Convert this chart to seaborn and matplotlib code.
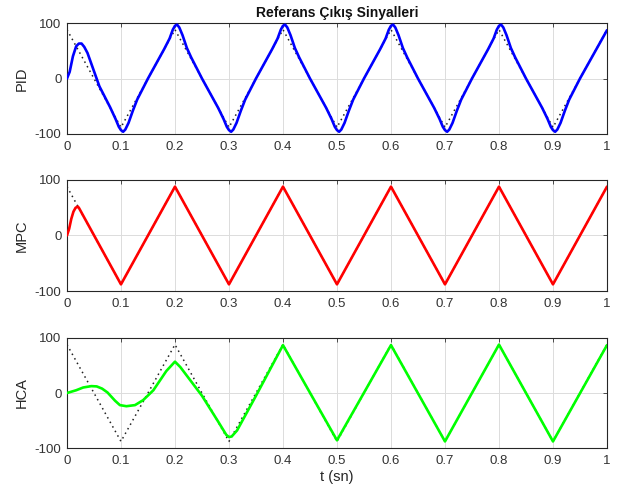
import numpy as np
import pandas as pd
import matplotlib
matplotlib.use("Agg")
import matplotlib.pyplot as plt
import seaborn as sns

#%% veriler
# referans ucgen sinyal (koseler)
ref_t = [0, 0.1, 0.2, 0.3, 0.4, 0.5, 0.6, 0.7, 0.8, 0.9, 1.0]
ref_y = [88, -88, 88, -88, 88, -88, 88, -88, 88, -88, 88]

# PID cikisi (resimden okunan noktalar)
pid_t = [0, 0.005, 0.011, 0.017, 0.022, 0.027, 0.032, 0.038, 0.06, 0.08,
         0.09, 0.096, 0.1, 0.104, 0.108, 0.114, 0.122, 0.13, 0.15, 0.18,
         0.19, 0.196, 0.2, 0.204, 0.208, 0.214, 0.222, 0.23, 0.25, 0.28,
         0.29, 0.296, 0.3, 0.304, 0.308, 0.314, 0.322, 0.33, 0.35, 0.38,
         0.39, 0.396, 0.4, 0.404, 0.408, 0.414, 0.422, 0.43, 0.45, 0.48,
         0.49, 0.496, 0.5, 0.504, 0.508, 0.514, 0.522, 0.53, 0.55, 0.58,
         0.59, 0.596, 0.6, 0.604, 0.608, 0.614, 0.622, 0.63, 0.65, 0.68,
         0.69, 0.696, 0.7, 0.704, 0.708, 0.714, 0.722, 0.73, 0.75, 0.78,
         0.79, 0.796, 0.8, 0.804, 0.808, 0.814, 0.822, 0.83, 0.85, 0.88,
         0.89, 0.896, 0.9, 0.904, 0.908, 0.914, 0.922, 0.93, 0.95, 1.0]
pid_y = [0, 12, 40, 58, 63, 63, 57, 46, -14, -52,
         -73, -87, -93, -96, -92, -80, -58, -38, 0, 53,
         72, 88, 95, 97, 92, 78, 55, 38, 0, -53,
         -73, -87, -93, -96, -92, -80, -58, -38, 0, 53,
         72, 88, 95, 97, 92, 78, 55, 38, 0, -53,
         -73, -87, -93, -96, -92, -80, -58, -38, 0, 53,
         72, 88, 95, 97, 92, 78, 55, 38, 0, -53,
         -73, -87, -93, -96, -92, -80, -58, -38, 0, 53,
         72, 88, 95, 97, 92, 78, 55, 38, 0, -53,
         -73, -87, -93, -96, -92, -80, -58, -38, 0, 87]

# MPC cikisi
mpc_t = [0, 0.004, 0.008, 0.012, 0.016, 0.02, 0.022, 0.1, 0.2, 0.3, 0.4,
         0.5, 0.6, 0.7, 0.8, 0.9, 1.0]
mpc_y = [0, 12, 30, 43, 50, 52, 50, -88, 88, -88, 88,
         -88, 88, -88, 88, -88, 88]

# HCA cikisi
hca_t = [0, 0.017, 0.03, 0.045, 0.055, 0.065, 0.075, 0.089, 0.098, 0.11,
         0.126, 0.141, 0.16, 0.184, 0.2, 0.21, 0.25, 0.28, 0.295, 0.3,
         0.305, 0.315, 0.35, 0.4, 0.5, 0.6, 0.7, 0.8, 0.9, 1.0]
hca_y = [0, 5, 10, 12.5, 12, 8, 1, -14, -22, -24,
         -22, -13, 5, 40, 57, 47, -5, -52, -76, -80,
         -79, -68, -5, 87, -86, 87, -88, 88, -88, 87]

#%% cizim
sns.set_style("white")
plt.rcParams['font.family'] = ['Liberation Sans', 'DejaVu Sans']
plt.rcParams['axes.unicode_minus'] = False

fig = plt.figure(figsize=(6.23, 4.95), dpi=100)
boxes = [[0.1075, 0.7293, 0.8668, 0.2242],
         [0.1075, 0.4121, 0.8668, 0.2243],
         [0.1075, 0.0949, 0.8668, 0.2223]]
series = [(pid_t, pid_y, (0, 0, 1), "PID"),
          (mpc_t, mpc_y, (1, 0, 0), "MPC"),
          (hca_t, hca_y, (0, 1, 0), "HCA")]

ref = pd.DataFrame({"t": ref_t, "y": ref_y})
for i, (t, y, c, name) in enumerate(series):
    ax = fig.add_axes(boxes[i])
    sns.lineplot(data=ref, x="t", y="y", ax=ax, color="#222222", lw=1.1,
                 linestyle=(0, (1, 2.4)), zorder=2)
    sns.lineplot(x=t, y=y, ax=ax, color=c, lw=1.9, zorder=3)
    ax.set_xlim(0, 1)
    ax.set_ylim(-100, 100)
    ax.set_xticks(np.arange(0, 1.01, 0.1))
    ax.set_xticklabels(["0", "0.1", "0.2", "0.3", "0.4", "0.5", "0.6", "0.7", "0.8", "0.9", "1"])
    ax.set_yticks([-100, 0, 100])
    ax.grid(True, color="#dcdcdc", lw=0.7)
    ax.set_axisbelow(True)
    ax.tick_params(direction="in", length=3, width=0.6, top=True, right=True,
                   labelsize=9.5, colors="#333333")
    ax.tick_params(axis="x", pad=5)
    ax.tick_params(axis="y", pad=4)
    for s in ax.spines.values():
        s.set_color("#262626")
        s.set_linewidth(0.8)
    ax.set_ylabel(name, fontsize=10.5, color="#262626", labelpad=4)
    ax.set_xlabel("")
    if i == 0:
        ax.set_title("Referans Çıkış Sinyalleri", fontsize=10, fontweight="bold",
                     color="#111111", pad=4)
    if i == 2:
        ax.set_xlabel("t (sn)", fontsize=10.5, color="#262626", labelpad=2)

plt.savefig("out.png", dpi=100)
